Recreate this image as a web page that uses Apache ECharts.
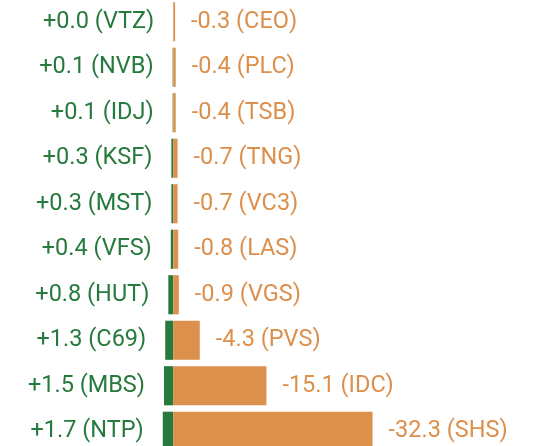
<!DOCTYPE html>
<html><head><meta charset="utf-8">
<script src="https://cdn.jsdelivr.net/npm/echarts@6/dist/echarts.min.js"></script>
<style>html,body{margin:0;padding:0;background:#fff}#c{width:537px;height:446px}</style>
</head><body><div id="c"></div>
<script>
const gainCodes = ['VTZ','NVB','IDJ','KSF','MST','VFS','HUT','C69','MBS','NTP'];
const gainValues = [0.0,0.1,0.1,0.3,0.3,0.4,0.8,1.3,1.5,1.7];
const lossCodes = ['CEO','PLC','TSB','TNG','VC3','LAS','VGS','PVS','IDC','SHS'];
const lossValues = [-0.3,-0.4,-0.4,-0.7,-0.7,-0.8,-0.9,-4.3,-15.1,-32.3];
const rows = gainCodes.map((c,i)=>'r'+i);

const GREEN = '#267a3d', ORANGE = '#dd8f4c';
const chart = echarts.init(document.getElementById('c'));
chart.setOption({
  animation:false,
  grid:{left:0.5, width:530.6, top:-1, height:455, outerBoundsMode:'none', containLabel:false},
  xAxis:{type:'value', min:-28, max:58, show:false},
  yAxis:{type:'category', data:rows, inverse:true, show:false},
  series:[
    {type:'bar', data:gainValues.map(v=>-v), barWidth:'86%', barGap:'-100%',
     itemStyle:{color:GREEN},
     label:{show:true, position:'left', distance:19, color:GREEN, fontFamily:'Roboto', fontSize:23.5,
       formatter:p=>'+'+gainValues[p.dataIndex].toFixed(1)+' ('+gainCodes[p.dataIndex]+')'}},
    {type:'bar', data:lossValues.map(v=>-v), barWidth:'86%', barGap:'-100%',
     itemStyle:{color:ORANGE},
     label:{show:true, position:'right', distance:16, color:ORANGE, fontFamily:'Roboto', fontSize:23.5,
       formatter:p=>lossValues[p.dataIndex].toFixed(1)+' ('+lossCodes[p.dataIndex]+')'}}
  ]
});
</script></body></html>
